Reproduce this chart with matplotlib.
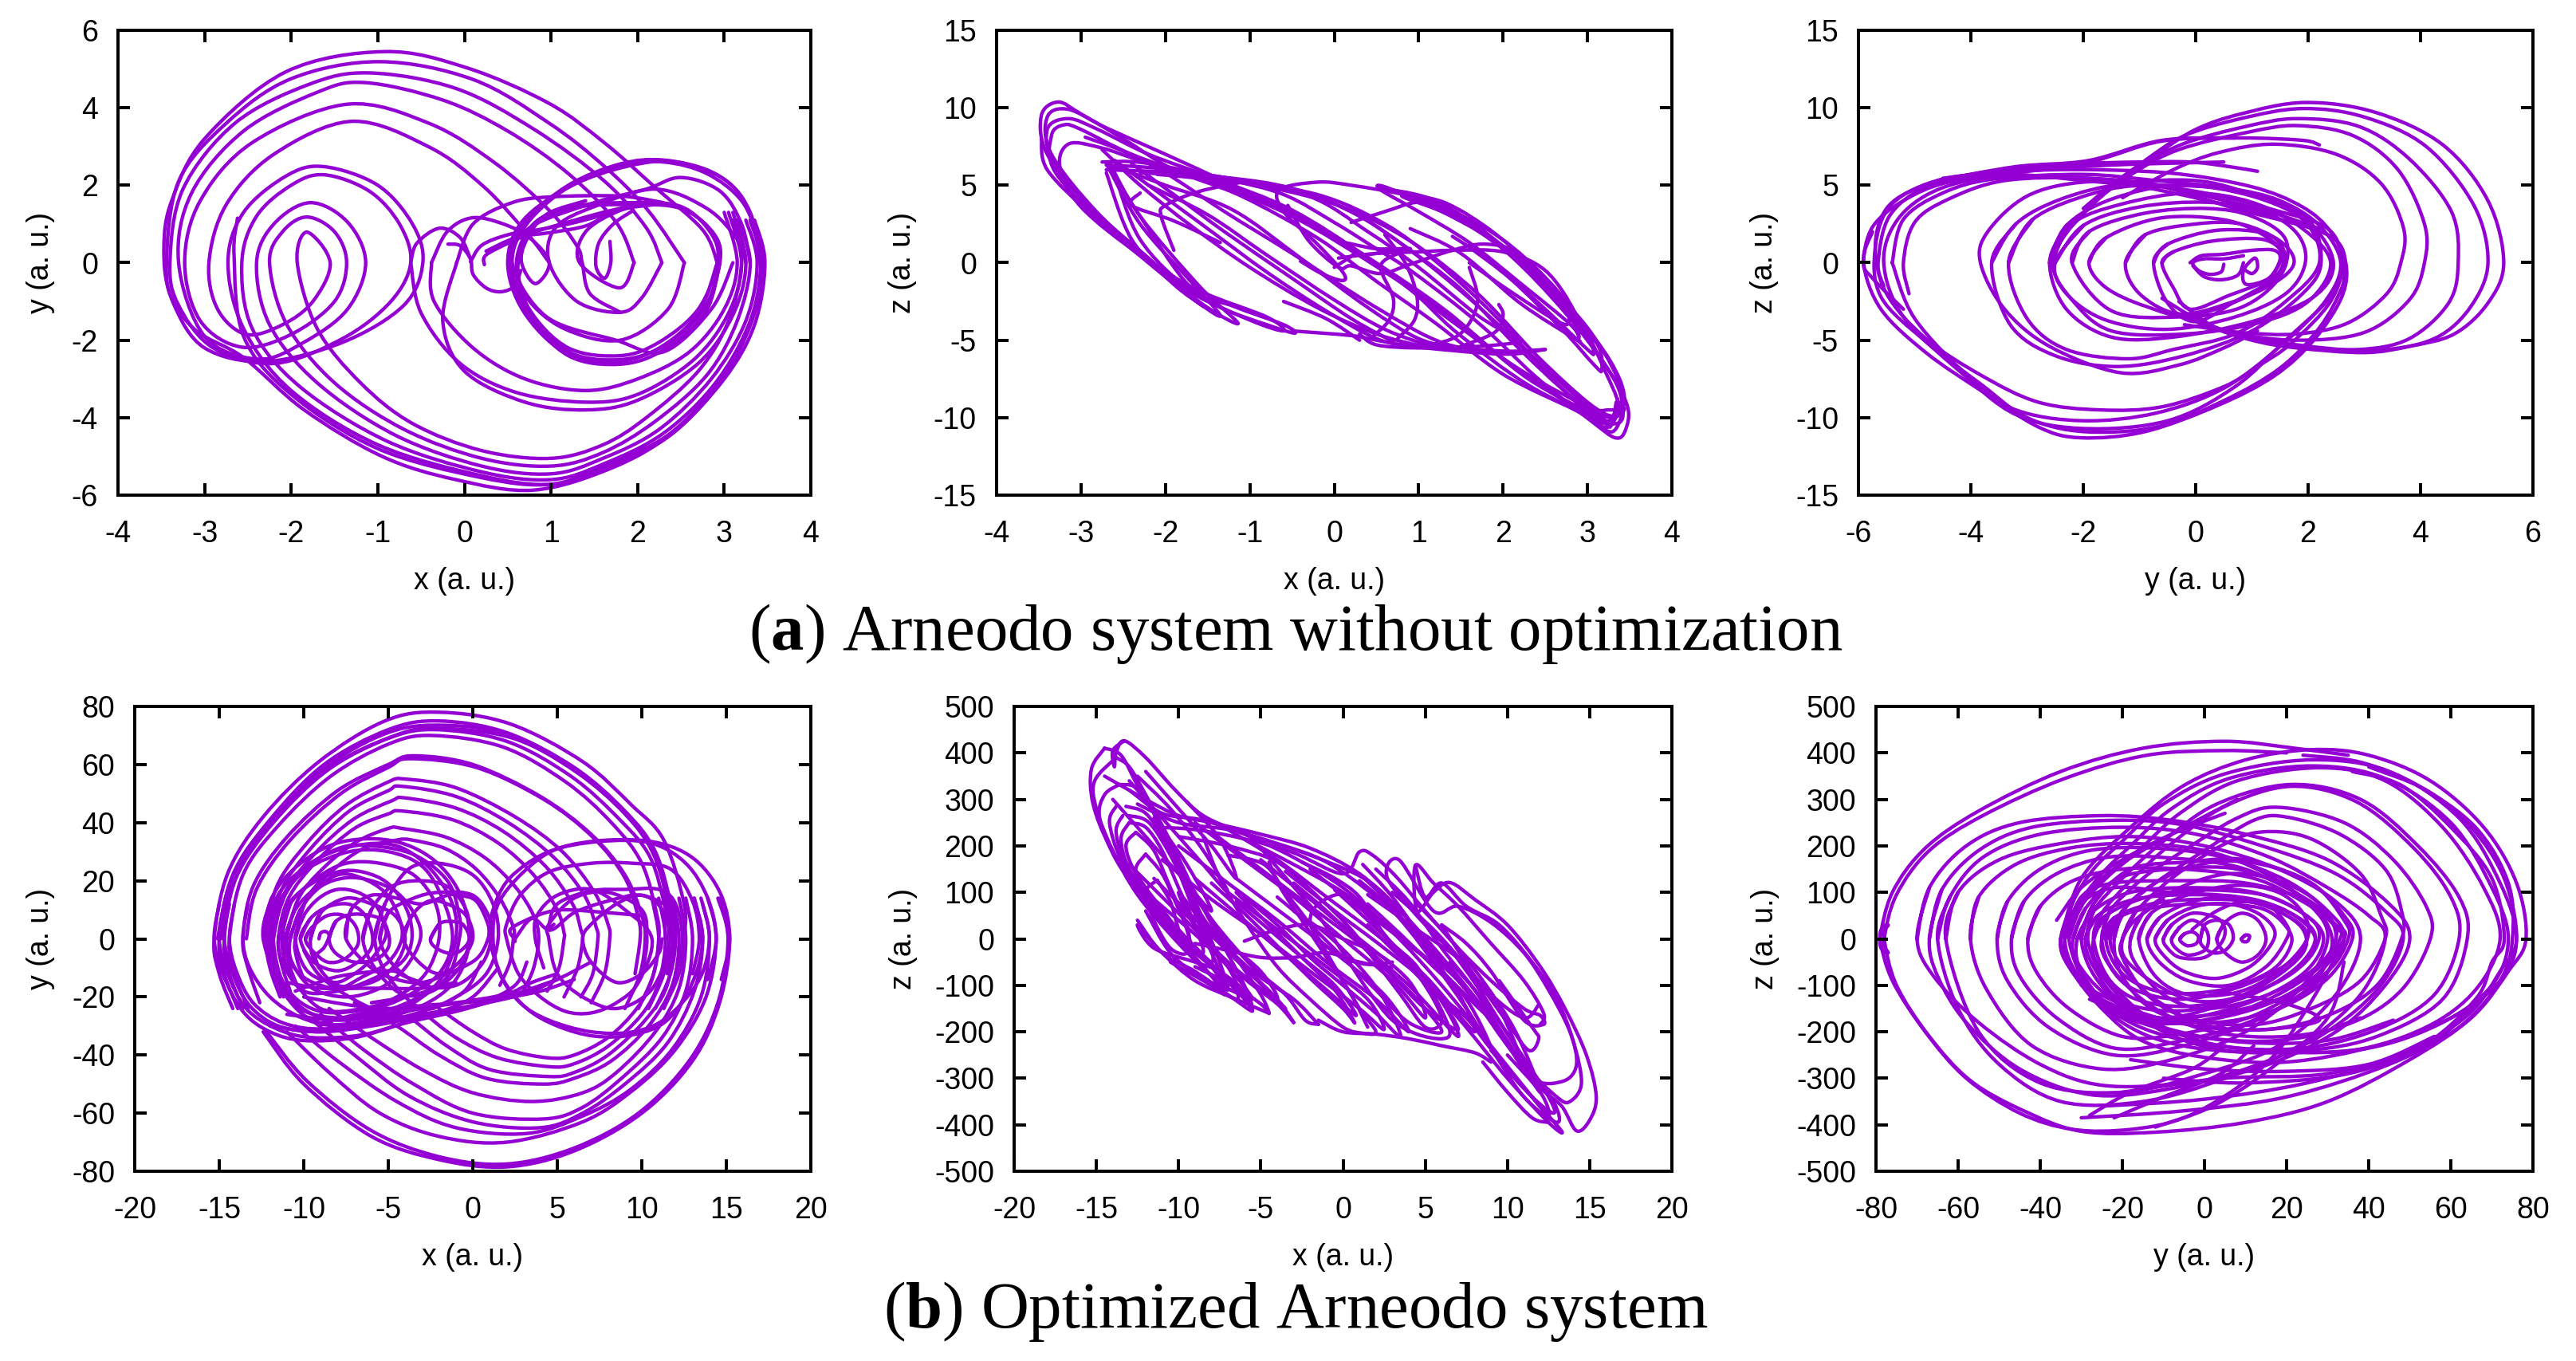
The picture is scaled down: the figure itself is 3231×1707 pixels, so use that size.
import numpy as np
import matplotlib
matplotlib.use("Agg")
import matplotlib.pyplot as plt
from matplotlib.path import Path
from matplotlib.patches import PathPatch

plt.rcParams['font.family'] = ['Liberation Sans', 'DejaVu Sans']
plt.rcParams['mathtext.fontset'] = 'custom'
plt.rcParams['mathtext.bf'] = 'Liberation Serif:bold'
plt.rcParams['mathtext.rm'] = 'Liberation Serif'
plt.rcParams['axes.unicode_minus'] = False

VIOLET = '#9400D3'

# traces, one list per stroke

a_xy = [
    # start of the trajectory and small arches
    [(-.19, .48), (-.05, .44), (.07, .1), (.1, -.3), (.25, -.65), (.42, -.75), (.58, -.6), (.65, -.2)],
    [(.07, .02), (.2, .45), (.5, .72), (.85, .85), (1.2, 1.0), (1.55, 1.2), (1.9, 1.45)],
    [(.23, -.05), (.25, .2), (.55, .55), (.85, .82), (1.2, 1.05), (1.6, 1.3), (2.0, 1.5)],
    [(.25, .3), (.6, .65), (1.0, .78), (1.4, .95), (1.65, 1.25)],
    [(-.62, 0), (-.55, .5), (-.29, .89), (-.05, .65), (.07, .1)],
    [(-.38, 0), (-.2, .8), (.09, 1.16), (.45, 1.0), (.76, .63), (.98, 0), (.82, -.54), (.66, 0), (.72, .6), (.95, 1.25), (1.4, 1.6)],
    [(-.09, 0), (.1, 1.0), (.55, 1.55), (1.0, 1.7), (1.8, 1.72), (2.3, 1.55)],
    # right lobe, tight centre
    [(1.68, .55), (1.69, 0), (1.62, -.4), (1.52, -.1), (1.55, .5), (1.72, 1.0), (1.95, 1.35)],
    [(1.96, 0), (1.79, -.65), (1.33, 0), (1.4, .8), (1.8, 1.35), (2.2, 1.5)],
    [(2.28, 0), (2.05, -.9), (1.8, -1.28), (1.3, -1.0), (.98, 0), (1.05, .9), (1.5, 1.45), (2.2, 1.9), (2.8, 1.4), (3.15, .6), (3.25, 0)],
    # right lobe, thick cycle
    [(2.54, 0), (2.35, -1.2), (1.8, -2.0), (1.15, -1.7), (.72, -.9), (.62, 0), (.8, 1.0), (1.25, 1.45), (1.9, 1.55), (2.5, 1.45), (2.85, .75), (2.92, 0), (2.7, -1.2), (2.25, -2.05), (1.8, -2.4), (1.2, -2.2), (.75, -1.2), (.6, 0), (.8, 1.0), (1.25, 1.42), (1.9, 1.5), (2.5, 1.4), (2.88, .75), (2.95, 0), (2.75, -1.25), (2.3, -2.15), (1.8, -2.5), (1.2, -2.3), (.72, -1.25), (.55, 0), (.72, 1.0), (1.2, 1.95), (1.8, 2.5), (2.3, 2.6), (2.8, 2.3), (3.2, 1.6), (3.4, .6), (3.45, 0)],
    [(2.95, 0), (2.78, -1.3), (2.3, -2.25), (1.8, -2.62), (1.2, -2.4), (.72, -1.3), (.52, 0), (.7, 1.05), (1.2, 2.0), (1.8, 2.55), (2.3, 2.65), (2.85, 2.35), (3.2, 1.7), (3.38, .6), (3.4, 0)],
    [(2.92, 0), (2.7, -1.3), (2.25, -2.2), (1.75, -2.55), (1.15, -2.3), (.68, -1.25), (.5, 0), (.68, 1.1), (1.25, 2.0), (1.9, 2.5), (2.45, 2.6), (3.0, 2.15), (3.3, 1.3), (3.42, 0)],
    [(3.1, 0), (2.85, -1.2), (2.3, -2.3), (1.75, -2.0), (.95, -1.4), (.55, 0), (.75, .9), (1.5, 1.55), (2.1, 1.9), (2.5, 2.2), (2.95, 1.85), (3.2, 1.0), (3.3, 0)],
    [(3.0, 1.3), (3.15, 0), (3.0, -1.2), (2.6, -2.3), (2.0, -3.0), (1.4, -3.3), (.7, -3.0), (.1, -2.2), (-.35, -1.0), (-.38, 0)],
    [(3.05, 1.3), (3.2, 0), (3.05, -1.3), (2.65, -2.5), (2.0, -3.4), (1.4, -3.6), (.6, -3.35), (-.05, -2.6), (-.5, -1.3), (-.62, 0)],
    [(3.1, 1.3), (3.25, 0), (3.1, -1.35), (2.7, -2.6), (2.0, -3.55), (1.4, -3.8), (.7, -3.6), (.0, -2.8), (-.25, -1.5), (-.09, 0)],
    # big loops: bottom, left lobe, top, landing on the right
    [(3.1, 1.1), (3.2, 0), (3.05, -1.5), (2.7, -2.8), (2.1, -4), (1.6, -4.7), (1, -5.05), (.2, -4.85), (-.6, -4.15), (-1.2, -3.1), (-1.7, -1.7), (-1.93, 0), (-1.82, .79), (-1.55, 0), (-1.75, -1), (-2.1, -1.6), (-2.52, -1.85), (-2.85, -1.2), (-2.95, 0), (-2.75, 1.5), (-2.2, 2.8), (-1.3, 3.65), (-.41, 2.99), (.22, 1.97), (.73, .74), (.98, 0)],
    [(3.15, 1.1), (3.3, 0), (3.15, -1.5), (2.8, -2.9), (2.2, -4.1), (1.6, -4.9), (1, -5.25), (.2, -5.05), (-.7, -4.3), (-1.5, -3.1), (-2.05, -1.6), (-2.25, 0), (-2.1, .8), (-1.82, 1.18), (-1.5, .8), (-1.36, 0), (-1.5, -1.0), (-2.0, -1.85), (-2.57, -2.18), (-3.05, -1.5), (-3.23, 0), (-3.05, 1.6), (-2.45, 3.1), (-1.36, 4.09), (-.41, 3.6), (.35, 2.58), (.98, 1.35), (1.3, .43), (1.36, 0), (1.45, -.8), (1.8, -1.28)],
    [(3.25, 1.1), (3.38, 0), (3.25, -1.5), (2.85, -3.0), (2.25, -4.3), (1.6, -5.05), (1, -5.45), (.2, -5.25), (-.8, -4.45), (-1.7, -3.1), (-2.25, -1.6), (-2.4, 0), (-2.2, 1.0), (-1.78, 1.55), (-1.35, 1.05), (-1.14, 0), (-1.35, -1.2), (-1.85, -2.05), (-2.38, -2.49), (-3.0, -1.9), (-3.3, 0), (-3.15, 1.8), (-2.55, 3.4), (-1.7, 4.4), (-1.15, 4.65), (-.25, 4.2), (.5, 3.4), (1.2, 2.3), (1.75, 1.05), (1.96, 0)],
    [(3.3, 1.1), (3.42, 0), (3.3, -1.5), (2.9, -3.1), (2.3, -4.4), (1.6, -5.2), (1, -5.6), (.2, -5.4), (-.9, -4.6), (-1.9, -3.2), (-2.45, -1.7), (-2.57, 0), (-2.4, 1.2), (-2.0, 2.0), (-1.62, 2.27), (-1.1, 1.85), (-.75, 1.0), (-.62, 0), (-.85, -1.0), (-1.4, -1.95), (-2.19, -2.6), (-2.9, -2.2), (-3.3, -1.1), (-3.4, 0), (-3.25, 1.9), (-2.65, 3.6), (-1.8, 4.6), (-1.1, 4.9), (-.1, 4.5), (.8, 3.45), (1.62, 2.1), (2.1, .9), (2.28, 0)],
    [(3.32, 1.1), (3.45, 0), (3.32, -1.5), (2.95, -3.1), (2.35, -4.5), (1.6, -5.3), (1, -5.72), (.2, -5.5), (-1, -4.7), (-2, -3.3), (-2.55, -1.7), (-2.73, 0), (-2.55, 1.3), (-2.05, 2.25), (-1.62, 2.48), (-1, 2.0), (-.6, 1.0), (-.48, 0), (-.7, -1.1), (-1.4, -2.05), (-2.3, -2.55), (-3.0, -2.2), (-3.35, -1.1), (-3.44, 0), (-3.3, 2.1), (-2.75, 3.6), (-2, 4.75), (-.98, 5.19), (.1, 4.73), (.98, 3.6), (1.62, 2.48), (2.12, 1.35), (2.54, 0)],
    [(3.35, 1.1), (3.47, 0), (3.35, -1.6), (3.0, -3.0), (2.4, -4.4), (1.7, -5.3), (.8, -5.87), (-.1, -5.6), (-.95, -5.0), (-1.85, -3.8), (-2.55, -2.45), (-3.1, -1.75), (-3.4, -.8), (-3.47, .4), (-3.38, 1.6), (-3.0, 3.2), (-2.06, 4.93), (-.92, 5.45), (.03, 5.03), (.98, 4.11), (1.62, 3.09), (2.19, 1.97), (2.75, .85), (2.92, 0)],
    [(3.3, 1.1), (3.44, 0), (3.3, -1.6), (2.95, -3.05), (2.35, -4.45), (1.6, -5.25), (1, -5.72), (.2, -5.55), (-1, -4.8), (-2, -3.4), (-2.55, -1.9), (-2.66, .2), (-2.62, 1.15)],
]

a_xz = [
    # top left lobes
    [(3.44, -9.4), (3.3, -10.9), (3.05, -10.2), (2.85, -9.5), (2.0, -7.2), (1.2, -3.9), (.5, -1.2), (-.2, 1.6), (-1.1, 4.3), (-1.9, 6.0), (-2.5, 8.0), (-3.0, 9.6), (-3.27, 10.37), (-3.47, 9.5), (-3.4, 7.0), (-2.9, 3.6), (-2.2, .3), (-1.7, -2.2), (-1.55, -2.8), (-1.9, -1.4), (-2.4, 1.5), (-2.7, 5.8)],
    [(3.4, -9.2), (3.25, -10.6), (3.0, -9.9), (2.1, -6.6), (1.3, -3.0), (.55, -.2), (-.3, 2.7), (-1.2, 5.0), (-2.0, 7.0), (-2.7, 8.7), (-3.15, 9.9), (-3.4, 9.4), (-3.35, 7.0), (-2.8, 3.2), (-2.1, -.2), (-1.6, -2.6), (-1.35, -3.4), (-1.7, -1.2), (-2.3, 2.5), (-2.7, 6.4)],
    [(3.38, -9), (3.25, -10.2), (3.05, -9.5), (2.2, -6.9), (1.35, -3.6), (.4, .3), (-.5, 3.4), (-1.4, 5.4), (-2.2, 7.0), (-2.8, 8.6), (-3.15, 9.3), (-3.4, 8.6), (-3.3, 6.2), (-2.7, 2.6), (-2.0, -.8), (-1.5, -2.9), (-1.14, -3.9), (-1.6, -1.5), (-2.3, 3.0), (-2.65, 6.3)],
    [(3.36, -8.8), (3.28, -10.4), (3.1, -9.9), (2.3, -7.5), (1.5, -4.0), (.6, -.6), (-.5, 3.0), (-1.5, 5.2), (-2.4, 7.0), (-3.0, 8.6), (-3.2, 8.9), (-3.35, 8.2), (-3.3, 5.8), (-2.6, 1.8), (-1.8, -1.5), (-1.3, -3.0), (-.8, -4.0), (-.47, -4.55), (-.6, -4.0), (-1.2, -2.8), (-1.7, -1.6), (-2.3, 3.0), (-2.7, 6.5)],
    [(3.34, -9), (3.28, -10.5), (3.15, -10.2), (2.3, -7.9), (1.45, -4.5), (.8, -1.3), (-.3, 2.5), (-1.3, 5.0), (-2.3, 6.6), (-2.75, 7.4), (-3.14, 7.68), (-3.25, 6.2), (-3.0, 3.6), (-2.3, .5), (-1.6, -1.8), (-.8, -3.5), (-.6, -4.4), (-1.0, -3.7), (-1.7, -1.8), (-2.3, 1.5), (-2.6, 5.7)],
    [(-2.95, 8.1), (-2.5, 7.2), (-2.0, 5.8), (-1.3, 3.3), (-.5, .6), (.5, -2.9), (1.3, -5.2), (2.0, -5.7), (2.5, -5.6)],
    # diagonal band below the middle
    [(-2.75, 7.3), (-2.3, 5.0), (-1.7, 2.4), (-1, -.3), (-.2, -2.9), (.5, -4.6), (1.08, -5.45)],
    [(-2.6, 6.6), (-2.1, 4.6), (-1.5, 2.2), (-.8, -.6), (-.1, -3.1), (.5, -4.9), (.9, -5.4)],
    [(-2.4, 6.4), (-1.9, 4.4), (-1.3, 2.0), (-.5, -1.0), (.2, -3.6), (.7, -5.1)],
    [(-2.7, 6.4), (-2.0, 5.0), (-1.2, 3.4), (-.4, .3), (.4, -2.9), (1.0, -4.9), (1.5, -5.6)],
    [(-2.2, 5.0), (-1.5, 3.1), (-.8, .5), (0, -2.4), (.6, -4.3), (1.2, -5.5)],
    [(-3.47, 8), (-3.4, 6), (-2.9, 3.2), (-2.4, .9), (-1.9, -1.3), (-1.5, -2.5)],
    # long strands across the middle
    [(-2.75, 6.5), (-2.26, 6.45), (-1.32, 5.43), (-.6, 4.4), (0, 2.6), (.45, 1.07), (.96, -.72), (1.74, -4.04), (2.39, -7.37), (3.04, -10.2), (3.33, -11.3), (3.45, -10.8), (3.47, -9.2), (3.2, -6.5), (2.7, -3), (2.1, .4), (1.45, 3.2), (.9, 4.3), (.2, 5.0), (-.2, 5.2), (-.65, 4.7), (-.6, 3.3), (-.2, 1.2), (.1, -.6), (.1, -1.15), (-.15, -.7), (-.4, .1)],
    [(-2.7, 6.3), (-2.1, 6.1), (-1.3, 5.5), (-.4, 4.6), (.3, 3.0), (.9, .8), (1.6, -2.3), (2.4, -6.3), (3.0, -9.2), (3.25, -9.5), (3.43, -9.2), (3.38, -7.5), (3.1, -5.0), (2.6, -2.2), (2.0, .9), (1.35, 3.3), (1.0, 3.9), (.6, 3.3), (.2, 2.6)],
    [(-2.3, 5.8), (-1.3, 5.5), (-.5, 4.8), (.2, 3.3), (.8, 1.2), (1.5, -1.7), (2.2, -5.6), (2.8, -8.6), (3.2, -9.9), (3.4, -9.6), (3.35, -7.4), (3.0, -4.2), (2.5, -1.3), (1.9, 1.4), (1.2, 3.5), (.6, 4.9), (.55, 4.7), (1.0, 3.3), (1.6, 1.3), (2.2, -1.3), (2.8, -4.0), (2.9, -5.0), (2.85, -4.9), (2.2, -2.6), (1.5, .6), (.9, 2.2)],
    [(-2.7, 6.0), (-1.8, 5.8), (-1.3, 5.4), (-.2, 4.4), (.6, 2.5), (1.2, .1), (1.9, -3.4), (2.5, -7.0), (3.05, -9.9), (3.3, -10.4), (3.42, -9.9), (3.35, -7.9), (3.0, -5.0), (2.4, -.7), (1.9, 1.9), (1.3, 3.9), (.8, 4.3), (1.4, 3.0), (2.0, .9), (2.6, -2.0), (3.0, -4.7), (3.07, -5.8), (3.0, -5.6), (2.5, -3.0), (1.9, -.1), (1.4, 1.7)],
    [(-2.1, 5.7), (-1.5, 5.4), (-.8, 4.9), (.1, 3.6), (.9, 1.4), (1.7, -2.0), (2.4, -6.0), (3.0, -9.0), (3.3, -9.9), (3.36, -9.0), (3.2, -6.9), (2.9, -3.6), (2.4, -.4), (1.8, 2.2), (1.0, 4.2), (.55, 4.8), (1.2, 4.0), (1.9, 1.5), (2.6, -1.9), (3.1, -5.1), (3.17, -6.9), (3.08, -6.6), (2.7, -4.3), (2.1, -1.1), (1.6, 1.0)],
    [(-1.9, 5.8), (-1.3, 5.5), (-.3, 4.3), (.4, 2.0), (1.0, -.3), (1.7, -3.4), (2.1, -4.7), (2.2, -5.1), (1.7, -5.4), (1.0, -5.5), (.5, -5.3), (.3, -4.6)],
    [(-.55, 3.7), (-.3, 1.4), (.05, -.3), (.2, -.2), (.55, -.7), (.9, -.1), (1.4, .8), (1.8, 1.2), (2.2, .5), (2.7, -2.6), (2.78, -3.8), (2.65, -3.8), (2.1, -1.9), (1.6, 0)],
    [(.05, .3), (.5, .6), (1.0, .7), (1.4, .8), (2.0, .7), (2.5, -.5), (2.85, -3.2), (2.9, -4.8)],
    [(.35, .5), (.9, .9), (.5, .9), (.1, 1.3), (.25, .7), (.0, -.3)],
    [(.45, -4.8), (.65, -3.7), (.7, -2.3), (.55, -.2), (.8, .7)],
    [(.75, -4.9), (.95, -3.7), (.98, -2.2), (.85, -.1), (.6, 1.8)],
    [(1.0, -5.45), (1.4, -4.9), (1.6, -3.9), (1.7, -2.3), (1.6, -.3)],
    [(1.5, -5.4), (1.9, -4.5), (2.0, -3.4), (1.95, -2.7)],
    [(-.5, -4.4), (.2, -4.7), (.5, -5.0), (1.0, -5.45), (2.0, -5.9), (2.5, -5.6)],
    [(-1.9, .8), (-2.05, 3.0), (-2.0, 3.7), (-1.6, 4.6), (-1.0, 5.3)],
    [(-2.3, 4.5), (-2.4, 3.7), (-1.9, 2.7), (-1.35, 1.3)],
    [(-.6, -2.5), (-.1, -3.6), (.3, -5.0)],
]

a_yz = [
    [(1.1, 5.9), (.6, 6.2), (-.1, 6.5), (-1.0, 6.5), (-2.0, 6.4), (-3.0, 6.15), (-4, 5.7), (-4.9, 4.9), (-5.5, 3.5), (-5.7, 1.0), (-5.5, -2.0), (-4.8, -4.9), (-3.8, -7.3), (-2.8, -9.0), (-1.7, -9.5), (-.6, -9.3), (.5, -8.0), (1.1, -6.7), (1.7, -5.2), (2.4, -2.5), (2.6, 0), (2.35, 2.2), (1.4, 3.4), (.3, 4.4), (-.8, 5.0), (-2.0, 5.2), (-3.0, 4.3), (-3.7, 2.0), (-3.83, 0), (-3.4, -3.0), (-2.6, -5.4), (-1.34, -7.1), (-.3, -6.6), (.5, -5.5), (1.1, -4.4)],
    [(-5.2, -3), (-5.75, -1), (-5.91, 0), (-5.75, 2.3), (-5.2, 4.0), (-4.4, 5.2), (-3.0, 5.9), (-1.5, 6.3), (.5, 6.5)],
    [(-5.75, 2), (-5.91, 0), (-5.6, -3.0), (-4.8, -5.8), (-3.8, -8.3), (-2.8, -10.6), (-2.04, -11.3), (-.9, -10.9), (.4, -9.2), (1.4, -7.3), (2.1, -5.0), (2.6, -2.2), (2.67, 0), (2.4, 1.7), (1.3, 3.0), (.1, 4.1), (-1.1, 5.0), (-1.7, 5.2), (-3.3, 5.7), (-4.5, 5.4), (-5.4, 3.8), (-5.7, 1.0), (-5.6, -2.2), (-4.8, -5.1), (-3.8, -7.9), (-3, -10.0), (-2.0, -10.9), (-.7, -10.6), (.5, -8.9), (1.5, -6.8), (2.2, -4.2), (2.6, -1.6), (2.65, 0)],
    [(-5.55, -1.5), (-5.65, 0), (-5.45, 3.0), (-4.8, 4.9), (-3.9, 5.6), (-2.5, 6.0), (-.5, 5.8), (1.0, 4.9), (1.9, 3.6), (2.4, 2.0), (2.62, 0), (2.4, -2.2), (1.6, -5.0), (.7, -8.0), (-.5, -10.2), (-2.0, -10.7), (-3.2, -9.8), (-4.2, -7.0), (-5.2, -3.5), (-5.55, 0), (-5.3, 2.8), (-4.6, 4.7), (-3.5, 5.6), (-2.2, 5.5), (-.8, 5.1), (.3, 4.2), (1.3, 3.3), (2.2, 2.2)],
    [(-5.4, 0), (-5.2, 2.8), (-4.5, 4.5), (-3.6, 5.4), (-2.0, 5.7), (-.7, 5.3), (.6, 4.8), (1.5, 4.0), (2.2, 2.4), (2.58, 0), (2.3, -2.5), (1.5, -5.4), (.5, -8.1), (-.7, -9.7), (-2.0, -10.2), (-3.2, -9.5), (-4.0, -7.5), (-5.0, -3.6), (-5.4, 0)],
    [(-5.1, -2), (-5.2, 0), (-5.0, 2.6), (-4.4, 4.1), (-3.4, 5.3), (-1.9, 5.45), (-.6, 4.9), (.7, 3.5), (1.8, 2.5)],
    # big right lobes
    [(-2.0, 3.5), (-1.4, 5.3), (-.7, 7.0), (.0, 8.6), (.8, 9.6), (1.94, 10.34), (3.2, 9.7), (4.4, 7.6), (5.2, 4.0), (5.48, 0), (5.2, -2.6), (4.6, -4.6), (3.8, -5.4), (3.0, -5.8), (1.8, -5.5), (1.0, -5.0), (.2, -4.0), (-.6, -2.3)],
    [(-2.2, 2.5), (-1.6, 4.6), (-.9, 6.6), (-.2, 8.2), (.8, 9.3), (1.9, 9.95), (3.0, 9.4), (4.1, 7.5), (4.95, 3.7), (5.2, 0), (4.9, -2.8), (4.3, -4.8), (3.4, -5.6), (2.2, -5.6), (1.2, -5.0), (.4, -4.3), (-.3, -2.5)],
    [(-2.3, 2.0), (-1.7, 4.2), (-1.0, 6.2), (-.2, 7.7), (.9, 8.8), (1.8, 9.3), (2.9, 8.8), (3.8, 6.7), (4.55, 3.3), (4.67, 0), (4.5, -2.6), (3.8, -4.9), (2.9, -5.6), (1.8, -5.3), (.7, -4.6), (-.2, -3.3)],
    [(-2.5, 1.0), (-1.9, 3.6), (-1.1, 5.8), (-.3, 7.3), (.9, 8.4), (1.8, 8.85), (2.8, 8.2), (3.6, 6.0), (4.07, 2.5), (4.07, 0), (3.8, -2.4), (3.0, -4.5), (1.8, -5.0), (.6, -4.5), (-.2, -3.5)],
    [(-1.3, 4.2), (-.4, 6.0), (.4, 7.1), (1.4, 7.65), (2.5, 7.0), (3.3, 5.1), (3.7, 2.2), (3.65, 0), (3.4, -2.0), (2.7, -3.9), (1.8, -4.6), (.8, -4.5), (-.2, -4.0)],
    [(-4.5, 5.45), (-3.3, 5.95), (-1.9, 6.5), (-.6, 7.85), (.8, 8.05), (1.9, 7.9), (2.2, 7.6)],
    [(-4.6, 5.3), (-3.2, 6.2), (-1.9, 6.6), (-.6, 7.9), (.7, 8.05)],
    # middle loops
    [(-3.63, 0), (-3.2, 2.5), (-2.4, 4.1), (-1.3, 5.1), (.0, 5.3), (1.0, 4.4), (2.0, 2.8), (2.23, 0), (1.9, -2.0), (1.0, -4.4), (-.2, -6.0), (-1.4, -6.7), (-2.5, -6.0), (-3.3, -4.0), (-3.63, 0), (-3.2, 2.5)],
    [(-3.33, 0), (-2.9, 2.8), (-1.8, 4.5), (-.8, 5.0), (.8, 4.6), (1.9, 2.8), (2.2, 0), (1.6, -2.5), (.7, -4.6), (-.4, -5.6), (-1.2, -6.2), (-2.3, -5.6), (-3.0, -3.6), (-3.33, 0), (-2.9, 2.8)],
    [(-2.6, 0), (-2.3, 2.4), (-1.5, 4.1), (-.3, 5.0), (1.0, 4.3), (2.0, 2.6), (2.45, 0), (2.1, -2.2), (1.0, -3.8), (-.4, -4.8), (-1.5, -4.8), (-2.3, -3.0), (-2.6, 0), (-2.3, 2.4)],
    [(-2.55, 0), (-2.2, 2.5), (-1.3, 3.8), (-.1, 4.5), (1.0, 3.9), (1.9, 2.2), (2.4, 0), (2.0, -2.5), (1.1, -3.9), (-.2, -4.6), (-1.5, -4.4), (-2.2, -2.4), (-2.55, 0), (-2.2, 2.5)],
    [(-2.5, 0), (-2.0, 2.4), (-1.0, 3.6), (.2, 3.9), (1.2, 3.3), (1.8, 1.9), (1.95, 0), (1.6, -2.0), (.7, -3.5), (-.5, -4.3), (-1.6, -3.7), (-2.3, -2.0), (-2.5, 0), (-2.0, 2.4)],
    [(-2.2, 0), (-1.9, 2.0), (-.9, 3.2), (.2, 3.5), (1.0, 3.0), (1.6, 1.5), (1.5, -.9), (.8, -2.9), (-.3, -3.5), (-1.5, -3.1), (-2.2, 0), (-1.9, 2.0)],
    [(-1.9, 0), (-1.6, 1.6), (-.6, 2.9), (.6, 2.7), (1.4, 1.3), (1.5, 0), (1.0, -2.0), (-.1, -3.4), (-.9, -2.8), (-1.6, -1.6), (-1.9, 0), (-1.6, 1.6)],
    [(-1.25, 0), (-.9, 1.8), (.0, 2.5), (.8, 2.5), (1.5, 1.4), (1.75, 0), (1.4, -1.3), (.6, -2.6), (-.3, -3.3), (-1.0, -2.0), (-1.25, 0), (-.9, 1.8)],
    [(-.75, 0), (-.5, 1.2), (.4, 2.1), (1.3, 1.8), (1.6, .4), (1.45, -.9), (.7, -2.5), (.0, -3.8), (-.5, -2.6), (-.75, 0), (-.5, 1.2)],
    [(-.6, 0), (-.4, .7), (.3, 1.4), (1.2, 1.5), (1.55, .5), (1.4, -.9), (.6, -2.1), (-.1, -3.0), (-.4, -1.6), (-.6, 0), (-.4, .7)],
    [(-.1, 0), (.1, .45), (.5, .55), (1.0, .8), (1.4, .8), (1.5, .2), (1.3, -1.0), (.9, -1.4), (.85, -.5), (1.05, .3), (1.1, -.3), (1.0, -.7), (.85, -.4)],
    [(.5, -.1), (.45, -.6), (.25, -.75), (.05, -.5), (-.05, 0), (.15, .25), (.5, .25), (.85, .45)],
    [(-.05, -.2), (.15, -.9), (.45, -1.1), (.75, -.8), (.85, 0)],
]

b_xy = [
    # big top arcs, both ends run past y = 0
    [(-14.2, -24), (-15, -12), (-15.3, 0), (-14.5, 22.5), (-12.4, 42), (-9.1, 61), (-5.2, 75), (-2, 78), (2.2, 74), (6.5, 61), (9.4, 46), (11.3, 34), (12.5, 12), (12.5, 0), (12.2, -12), (11.3, -24)],
    [(-13.9, -24), (-14.7, -12), (-15, 0), (-14.2, 22), (-12, 41), (-8.8, 60), (-5, 72), (-2, 75), (2, 71), (6, 59), (9, 44), (10.8, 30), (11.8, 10), (12, 0), (11.7, -12), (10.8, -24)],
    [(-13.6, -24), (-14.4, -12), (-14.7, 0), (-14, 21), (-11.8, 40), (-8.6, 58), (-5, 69), (-2.2, 72), (2, 68), (5.8, 56), (8.7, 41), (10.5, 28), (11.4, 10), (11.6, 0), (11.3, -12), (10.4, -24)],
    [(-13.3, -24), (-14.1, -12), (-14.4, 0), (-13.6, 22), (-11.5, 39), (-8.4, 56), (-5, 67), (-2.4, 70), (1.8, 66), (5.5, 54), (8.2, 40), (10, 26), (10.9, 8), (11, 0), (10.7, -12), (9.8, -24)],
    [(-14.9, 0), (-14.1, 23), (-11.9, 41), (-8.5, 59), (-4.6, 70), (-2, 72.5), (2.4, 69), (6.3, 57), (9.2, 42), (10.9, 27), (11.6, 8), (11.8, 0), (11.5, -12)],
    [(-15.1, 0), (-14.3, 20), (-12.2, 39), (-9, 58), (-5, 71), (-1.6, 73.5), (2.2, 70), (6.1, 57.5), (9, 43), (10.7, 29), (11.7, 9), (11.9, 0), (11.6, -12)],
    [(-12.6, -22), (-13.3, -10), (-13.6, 0), (-13, 18), (-11, 35), (-8, 51), (-5, 60), (-3.5, 63), (0, 60), (4, 49), (7, 36), (9, 22), (10, 8), (10.2, 0), (9.9, -12), (9, -24)],
    [(-13.4, 0), (-12.8, 17), (-10.8, 34), (-7.8, 50), (-5, 59), (-3.7, 62), (.2, 59), (4.2, 48), (7.1, 35), (9, 21), (9.8, 7), (9.9, 0), (9.6, -12)],
    [(-11.4, -20), (-12, -10), (-12.2, 0), (-11.6, 18), (-9.8, 33), (-7.5, 46), (-5, 54), (-4, 55), (-1, 52), (2.5, 42), (5.3, 30), (7.2, 16), (8, 5), (8.1, 0), (7.8, -12), (7, -22)],
    [(-11.2, -20), (-11.8, -10), (-12, 0), (-11.3, 17), (-9.6, 31), (-7.3, 44), (-5, 51), (-4.2, 52.5), (-1, 49), (2.1, 40), (4.8, 28), (6.6, 15), (7.3, 4), (7.4, 0), (7.1, -12), (6.4, -20)],
    [(-11, -20), (-11.6, -10), (-11.8, 0), (-11.2, 15), (-9.4, 29), (-7.1, 41), (-4.8, 47.5), (-4, 48.5), (-1, 45), (1.8, 37), (4.3, 25), (5.9, 12), (6.4, 3), (6.5, 0), (6.2, -10), (5.4, -20)],
    [(-10.8, -18), (-11.3, -9), (-11.5, 0), (-10.9, 14), (-9.2, 27), (-7, 38), (-5, 43), (-4.2, 44), (-1.2, 41), (1.5, 33), (3.6, 22), (5, 10), (5.4, 2), (5.4, 0), (5.1, -10), (4.4, -18)],
    [(-10.4, -16), (-10.9, -8), (-11, 0), (-10.3, 14), (-8.9, 24), (-7, 33), (-5, 38), (-4.2, 38), (-1.6, 35), (.7, 28), (2.5, 18), (3.6, 8), (3.9, 0), (3.6, -10), (3, -18)],
    [(-10, -14), (-10.4, -7), (-10.5, 0), (-9.8, 14), (-8.4, 23), (-6.5, 31), (-4.5, 34), (-3.6, 34), (-1.6, 31), (.2, 24), (1.6, 14), (2.4, 4), (2.4, 0), (2.2, -8), (1.6, -16)],
    # right lobe
    [(14.7, -14), (15.2, 0), (14.7, 15), (13.2, 27), (11, 33), (8, 34), (5, 31), (3, 23), (1.5, 12), (1.2, 0), (1.6, -12), (2.8, -22), (4.5, -28), (7, -32), (9.5, -32), (11.5, -27), (13.4, -14), (14, 0), (13.6, 12)],
    [(13.9, -14), (14.4, 0), (13.9, 14), (12.6, 26), (10.5, 33), (7.5, 33.5), (4.5, 30), (2.2, 21), (1.2, 10), (1, 0), (1.8, -14), (3.2, -24), (5, -30), (7.2, -33.5), (9.5, -33), (11.5, -28), (13, -15), (13.6, 0), (13.1, 14)],
    [(13, -12), (13.4, 0), (13, 13), (11.7, 24), (9.5, 26), (7, 26), (4.5, 23), (2.8, 15), (2, 5), (2, 0), (2.7, -12), (4, -20), (5.5, -25), (7, -25.5), (8.5, -22), (9.8, -15), (10.6, 0), (9, 10), (7, 17), (5, 15), (3.8, 8), (3.7, 0), (4.2, -10)],
    [(12, -12), (12.4, 0), (12, 12), (11, 17), (9, 17), (7, 16.5), (5, 12), (4.5, 4), (4.8, 5)],
    [(11.4, 0), (11.2, 10), (10, 15), (8.5, 12), (7, 5), (6.5, 0), (7, -8), (8.5, -15), (10, -12), (11, -5), (11.2, 0)],
    [(10.1, -10), (10.3, 0), (10, 10), (8, 16), (6, 14), (4.5, 5), (4.5, 0), (5, -12), (6.5, -20), (8.5, -24), (10.5, -18), (11.6, -5)],
    # big bottom arcs
    [(14.6, 14), (15.2, 0), (14.6, -22), (13, -42), (10, -60), (6, -73), (2, -78.5), (-2, -76), (-6, -68), (-10, -50), (-12.4, -32)],
    [(14.5, 14), (15.1, 0), (14.5, -22), (12.8, -42), (9.8, -60), (6, -72), (2, -77.5), (-2, -75), (-6, -66), (-9.8, -49), (-12.2, -32)],
    [(13.9, 14), (14.4, 0), (13.8, -20), (12, -38), (9.5, -52), (6.5, -63), (2, -70), (-2, -68), (-5.5, -60), (-8.5, -46), (-11, -32)],
    [(13.5, 14), (14, 0), (13.5, -20), (11.8, -38), (9.3, -52), (6.5, -61), (3.2, -67), (-1, -65), (-4.5, -56), (-8, -42), (-10.5, -30)],
    [(13.1, 14), (13.6, 0), (13.1, -18), (11.5, -36), (9, -50), (6.5, -60), (4, -65), (0, -63), (-3.8, -54), (-7, -40), (-9.5, -28)],
    [(12.6, 14), (13, 0), (12.6, -18), (11.2, -34), (8.8, -48), (6.5, -58), (4.2, -62), (0, -60), (-3.5, -50), (-6.5, -38), (-9, -26)],
    [(12.2, 14), (12.6, 0), (12.2, -17), (10.8, -32), (8.5, -46), (6.5, -53), (3.5, -56), (0, -53), (-3, -45), (-6, -34), (-8.5, -24)],
    [(11.8, 14), (12.2, 0), (11.8, -16), (10.4, -30), (8.2, -42), (6, -48), (4.2, -50), (.8, -48), (-2, -40), (-4.5, -30), (-7, -22)],
    [(11.5, 14), (11.8, 0), (11.5, -16), (10.2, -28), (8, -40), (6, -46), (4.5, -47.4), (1, -45), (-1.5, -37), (-3.5, -28)],
    [(11, 14), (11.4, 0), (11, -15), (10, -26), (8, -37), (6, -43), (4.5, -44), (1.5, -41), (-1, -34), (-3, -25)],
    [(10.6, 14), (11, 0), (10.6, -14), (9.7, -24), (8, -34), (6, -40), (4.5, -41), (2, -38), (0, -32), (-2, -24)],
    # left lobe bottoms
    [(-15, 12), (-15.3, 0), (-14.8, -12), (-13.6, -25), (-12, -32), (-10, -35), (-7, -34), (-4, -29), (-1, -25), (1.5, -21), (4, -18), (6, -14)],
    [(-14.7, 12), (-15, 0), (-14.5, -12), (-13.4, -24), (-11.6, -31), (-9.5, -34), (-6.5, -33), (-3.5, -28), (-.5, -24), (2, -20), (5, -14)],
    [(-14.4, 12), (-14.7, 0), (-14.2, -12), (-13.2, -23), (-11.5, -30), (-9, -32), (-6, -30), (-2.5, -26), (.5, -22), (2.5, -16), (3.2, -8)],
    [(-14.1, 12), (-14.4, 0), (-14, -11), (-13, -22), (-11.2, -29), (-8.8, -31), (-5.5, -28), (-2, -25), (0, -20), (1.5, -10)],
    [(-13.3, 12), (-13.6, 0), (-13.2, -10), (-12, -20), (-10.2, -27), (-8, -30), (-5, -28), (-2.5, -24), (-.5, -18), (.5, -8)],
    [(-12, -30), (-9, -32), (-6, -29), (-3, -26), (0, -23), (3, -19), (5, -14), (7, -8)],
    [(-11, -26), (-8, -28), (-5, -26), (-2, -23), (1, -21), (3, -19)],
    [(-10, -20), (-7, -23), (-4, -24), (-1, -22)],
    [(-11, -15), (-9, -17), (-6, -17), (-3, -17), (-1, -15)],
    # left lobe circles
    [(-12.2, 0), (-11.8, 12), (-10.5, 22), (-8, 31), (-6, 32), (-3.5, 29), (-1.5, 20), (-.8, 8), (-.8, 0), (-1.5, -13), (-3.5, -21), (-6, -26), (-8.5, -27), (-10.5, -23), (-11.8, -12), (-12.2, 0), (-11.8, 12)],
    [(-12, 0), (-11.4, 13), (-9.8, 24), (-7.3, 30), (-5, 30), (-3, 25), (-1.8, 14), (-1.2, 0), (-2, -12), (-4, -20), (-6, -24), (-9, -25), (-11, -17), (-12, 0), (-11.4, 13)],
    [(-11.5, 0), (-11, 11), (-9.8, 18), (-8, 23), (-6.5, 23), (-5, 19), (-3.9, 10), (-3.6, 0), (-4.2, -8), (-6, -14), (-8, -18), (-10, -18), (-11.2, -9), (-11.5, 0), (-11, 11)],
    [(-11.1, 0), (-10.6, 9), (-9.6, 16), (-8, 22), (-6.6, 21), (-5.2, 16), (-4.4, 8), (-4.2, 0), (-5, -8), (-6.5, -13), (-8, -17), (-9.8, -14), (-10.9, -7), (-11.1, 0), (-10.6, 9)],
    [(-10.5, 0), (-10, 8), (-9.1, 14), (-8, 17), (-6.8, 16), (-5.8, 12), (-5.2, 5), (-5.2, 0), (-6, -7), (-7, -12), (-8.2, -15), (-9.8, -11), (-10.5, 0), (-10, 8)],
    [(-10.2, 0), (-9.6, 7), (-8.6, 11), (-7.4, 12), (-6.5, 9), (-6, 3), (-6, -3), (-6.8, -8), (-8, -11), (-9.4, -8), (-10.2, 0), (-9.6, 7)],
    [(-9.9, 0), (-9.5, 4), (-8.6, 8), (-7.6, 8), (-6.9, 4), (-6.8, -2), (-7.6, -7), (-8.6, -8), (-9.5, -4), (-9.9, 0), (-9.5, 4)],
    [(-12.4, 0), (-11.9, 14), (-10.4, 25), (-8, 33), (-5, 34), (-2.5, 28), (-.8, 16), (-.2, 0), (-1, -14), (-3, -23), (-6, -28), (-9, -29), (-11, -20), (-12.4, 0), (-11.9, 14)],
    [(-11.8, 0), (-11.2, 14), (-9.6, 26), (-7, 32), (-4.5, 32), (-2.5, 24), (-1.2, 12), (-1, 0), (-1.8, -13), (-3.5, -22), (-6, -27), (-9, -27), (-11, -18), (-11.8, 0), (-11.2, 14)],
    [(-11.3, 0), (-10.8, 12), (-9.2, 21), (-7.5, 26), (-5.5, 26), (-3.5, 22), (-2.2, 12), (-2, 0), (-2.8, -12), (-4.5, -20), (-6.5, -24), (-9, -24), (-10.8, -12), (-11.3, 0), (-10.8, 12)],
    [(-10.8, 0), (-10.2, 10), (-9, 18), (-7.5, 21), (-6, 20), (-4.5, 16), (-3.4, 8), (-3.1, 0), (-4, -10), (-5.5, -17), (-7.5, -20), (-9.5, -17), (-10.7, -8), (-10.8, 0), (-10.2, 10)],
    [(-9.6, 0), (-9, 9), (-7.5, 14), (-6, 12), (-4.6, 8), (-4, 0), (-4.6, -9), (-6, -15), (-8, -16), (-9.3, -8), (-9.6, 0), (-9, 9)],
    [(-6.5, 0), (-6, 10), (-4.8, 18), (-3.2, 20), (-1.5, 18), (-.4, 10), (-.2, 0), (-.8, -10), (-2.4, -18), (-4.2, -19), (-5.8, -10), (-6.5, 0), (-6, 10)],
    [(-5.8, 0), (-5.2, 12), (-3.8, 24), (-2, 26), (0, 22), (1.2, 12), (1.5, 0), (.8, -12), (-1, -20), (-3, -24), (-5, -13), (-5.8, 0), (-5.2, 12)],
    [(-9.1, 0), (-9, 2), (-8.7, 2.5), (-8.5, 1), (-8.8, -3), (-9.3, -6), (-9.1, -10)],
    [(-10, -4), (-9, -13), (-7, -21), (-5, -26), (-3, -27), (-1, -24)],
    [(-10.5, -18), (-8, -13), (-5, -11), (-4, -13), (-2.5, -17), (-4, -20), (-6, -22)],
    [(-7.5, 0), (-7.2, 10), (-6, 15), (-4.5, 14), (-3, 12), (-1.5, 15), (-.8, 15), (.2, 13), (.9, 5), (.9, 0), (.2, -7), (-1.5, -12), (-3, -15), (-4.5, -14), (-6, -10), (-7.5, 0), (-7.2, 10)],
    [(-5.5, 0), (-5, 9), (-3.5, 14), (-2, 16), (0, 15), (1, 7), (1.1, 0), (.5, -9), (-1, -16), (-3, -16), (-4.7, -9), (-5.5, 0), (-5, 9)],
    [(-4.1, 0), (-3.6, 8), (-2.6, 13), (-1.5, 12), (-.4, 8), (0, 0), (-.8, -8), (-2, -12), (-3.2, -8), (-4.1, 0), (-3.6, 8)],
    [(-2.5, 0), (-2, 5), (-1.4, 6), (-.6, 5), (-.2, 0), (-.7, -4), (-1.4, -5), (-2.2, -3), (-2.5, 0), (-2, 5)],
    [(-8.5, 0), (-8.1, 6), (-7, 8.5), (-5.5, 7), (-5, 2), (-5, -3), (-5.7, -7), (-7, -8), (-8.1, -5), (-8.5, 0), (-8.1, 6)],
    [(2.4, -1), (2.5, -.5), (2.2, 3), (3, 6), (4.3, 9), (5.5, 10), (8, 9), (10, 8)],
    [(2.5, 0), (3.5, 7), (4.6, 3), (6, 9), (8, 13), (10, 15), (12, 10)],
    [(-9, -29), (-6, -25), (-3, -23), (-1, -22), (2, -19), (3.5, -15), (5, -12)],
]

b_xz = [
    # narrow loops from the top left to the bottom right
    [(-13.3, 426), (-14, 405), (-13.9, 370), (-13.8, 400), (-13.3, 426), (-12, 390), (-10.2, 320), (-8.5, 265), (-6, 225), (-3, 175), (0, 110), (3, 15), (6, -100), (9, -230), (11.5, -340), (13.3, -414), (12.5, -395), (10, -300), (7, -170), (4, -60)],
    [(-14.5, 410), (-15.3, 365), (-15.2, 290), (-14.2, 200), (-12.5, 110), (-10, 10), (-7.5, -75), (-5, -140), (-4.5, -160), (-5, -120), (-6.5, -40), (-8.5, 70), (-10, 160), (-11.5, 270), (-12.5, 330), (-13.5, 395), (-14.5, 410)],
    [(-13.8, 390), (-15.1, 340), (-15, 280), (-14, 190), (-12.5, 95), (-10, -10), (-7.5, -95), (-6, -125), (-5.5, -150), (-6, -100), (-7.5, 0), (-9, 100), (-10.5, 210), (-12, 310), (-13, 370), (-13.8, 390)],
    [(-13.6, 332), (-14.5, 310), (-14.8, 260), (-13.8, 170), (-12, 80), (-10, 0), (-8, -80), (-7.2, -120), (-7.5, -70), (-8.5, 10), (-9.5, 100), (-10.5, 190), (-11.5, 270), (-12.6, 325), (-13.6, 332)],
    [(-13.8, 285), (-14.2, 250), (-13.5, 170), (-12, 90), (-10, 10), (-8, -60), (-7, -110), (-7.5, -50), (-8.5, 40), (-9.5, 120), (-10.8, 210), (-12, 270), (-13.2, 285)],
    [(-13.4, 265), (-13.8, 230), (-13.2, 160), (-11.8, 90), (-10, 20), (-8, -50), (-8.3, 10), (-9.3, 90), (-10.5, 180), (-11.8, 250), (-13, 265)],
    [(-13, 250), (-13.5, 215), (-13, 150), (-11.5, 80), (-9.5, 0), (-8.5, -30), (-9, 30), (-10, 110), (-11, 190), (-12, 240), (-13, 250)],
    [(-12.6, 229), (-13.2, 200), (-12.6, 140), (-11, 60), (-9.5, -10), (-9.5, 30), (-10.5, 110), (-11.5, 190), (-12.6, 229)],
    [(-12, 182), (-12.6, 150), (-12, 110), (-10.5, 40), (-9.2, -32), (-9.5, 20), (-10.2, 80), (-11, 140), (-12, 182)],
    [(-11.3, 126), (-12, 100), (-11.5, 40), (-10.5, -20), (-9.5, -30), (-10, 20), (-10.5, 80), (-11.3, 126)],
    [(-12, 60), (-10.5, -30), (-8.5, -85), (-6.5, -110), (-7, -60), (-8.5, 10), (-10, 70)],
    [(-14, 300), (-12, 220), (-10, 140), (-8, 60), (-9.5, 160), (-11.5, 260)],
    [(-13, 340), (-11, 260), (-9, 180), (-7, 100), (-8.5, 190), (-10.5, 280), (-12.5, 350)],
    [(-12, 360), (-10, 280), (-8, 200), (-6.5, 130), (-7.5, 215), (-9.5, 295)],
    [(-13, 160), (-11, 90), (-9, 20), (-7, -50), (-5, -110), (-3.5, -150), (-5.5, -80), (-7.5, -10), (-9.5, 60), (-11.5, 130)],
    [(-12.5, 40), (-11, -30), (-9, -70), (-7, -120), (-5.5, -155), (-7, -90), (-9, -30), (-11, 30)],
    [(-12, 100), (-10, 40), (-8, -20), (-6, -80), (-4, -130), (-5, -70), (-7, -10), (-9, 50)],
    [(-11.5, 60), (-9.5, 0), (-7.5, -70), (-5.5, -130), (-7, -60), (-9, 10)],
    [(-10.5, -50), (-8.5, -90), (-6.5, -130), (-6.8, -100), (-9, -60)],
    # middle of the band
    [(-9, 250), (-6, 170), (-3, 90), (0, 0), (3, -90), (5, -170), (4, -90), (1, 0), (-2, 85), (-5, 170)],
    [(-10, 200), (-7, 120), (-4, 40), (-1, -50), (2, -130), (4, -200), (2.5, -120), (-.5, -30), (-3.5, 50), (-6.5, 130)],
    [(-11, 170), (-8, 85), (-5, 10), (-2, -70), (1, -150), (2.5, -195), (1.5, -130), (-1, -60), (-4, 20), (-7, 100)],
    [(-8, 230), (-5, 150), (-2, 70), (1, -10), (4, -100), (7, -210), (5.5, -110), (2.5, -20), (-.5, 60), (-3.5, 145)],
    [(-7, 235), (-4, 170), (-1, 90), (2, 10), (5, -80), (8, -200), (6.5, -90), (3.5, 0), (.5, 80), (-2, 150)],
    [(-6, 215), (-3, 160), (0, 100), (3, 20), (6, -70), (9, -170), (7.5, -60), (4.5, 20), (1.5, 95)],
    [(-9, 130), (-7, 70), (-5, 10), (-3, -50), (-1, -110), (.8, -165), (-.5, -100), (-2.5, -40), (-4.5, 20), (-6.5, 80)],
    [(-4, 90), (-2, 30), (0, -40), (2, -110), (4, -180), (6, -200), (4.5, -130), (2.5, -60), (.5, 10), (-1.5, 70)],
    [(-3, 120), (-1, 60), (1, -10), (3, -80), (5, -150), (7, -195), (5.5, -110), (3.5, -40), (1.5, 30)],
    [(-.5, 105), (1.5, 40), (3.5, -30), (5.5, -110), (7.5, -170), (9, -235), (7.5, -130), (5.5, -60), (3.5, 10), (1.5, 75)],
    [(1, 140), (3, 70), (5, -20), (7, -90), (9, -170), (11, -280), (9.5, -150), (7.5, -60), (5.5, 20), (3, 100)],
    [(2, 150), (4, 80), (6, -20), (8, -110), (10, -220), (12, -330), (10.5, -200), (8.5, -90), (6.5, 0), (4.5, 75)],
    [(9, -240), (11, -320), (12.5, -380), (12, -330), (10, -250)],
    [(8.5, -265), (10, -330), (11.5, -385), (12.5, -395)],
    # long strands
    [(-14.5, 350), (-12, 300), (-10, 265), (-8, 250), (-5, 225), (-2, 195), (1, 140), (3.5, 60), (6, -40), (8, -130), (10, -230), (12, -320), (13.3, -360), (14.2, -413), (15, -390), (15.4, -339), (14.8, -250), (13.5, -150), (12, -60), (10, 30), (8, 85), (6.5, 121), (5.5, 100), (4.5, 60), (4.4, 158), (5.5, 120), (7, 70), (9, -10), (11, -90), (12.2, -160), (12, -184)],
    [(-13, 320), (-11, 270), (-8.5, 255), (-5, 215), (-2, 180), (1.5, 125), (4, 40), (6.5, -60), (9, -170), (11, -270), (13, -340), (13.8, -350), (14.5, -310), (14, -220), (13, -130), (11.5, -50), (9.5, 30), (7.5, 70), (6, 120), (5, 90), (4.4, 158)],
    [(-12.5, 290), (-10, 250), (-7, 235), (-4, 205), (-1, 165), (2, 90), (4.5, 10), (7, -90), (9.5, -200), (11.5, -300), (13.4, -306), (14.2, -270), (13.8, -200), (12.5, -110), (11, -30), (9, 35), (7, 70), (5.5, 60), (3.4, 170), (2.7, 130), (5, 30), (7, -40), (9, -120), (11, -170), (11.9, -142)],
    [(-11.5, 240), (-9, 235), (-6, 215), (-3, 185), (0, 140), (1, 187), (1.8, 180), (3.2, 135), (5, 60), (7, -20), (9, -90), (11, -150), (12, -165), (12.2, -184), (11, -175), (9, -70), (7.5, -10), (6, 30)],
    [(-10, 220), (-7, 200), (-4, 165), (-1.5, 90), (.5, 20), (2, -50), (3.5, -120), (5, -190), (6, -180), (5.5, -130), (4, -50), (2.5, 10), (1, 90), (-.5, 130), (-2.5, 165)],
    [(-7, 180), (-4.8, 160), (-3.5, 100), (-2, 30), (-.5, -60), (1, -150), (2, -200), (1.2, -203), (0, -190), (-2, -130), (-4, -60), (-6, 40), (-7.5, 130), (-8.5, 220)],
    [(-4.5, 165), (-3.8, 110), (-2.5, 40), (-1, -40), (.5, -120), (1.5, -190)],
    [(-5, 195), (-3.2, 120), (-1.5, 50), (0, -30), (1.5, -110), (3, -175), (4.5, -205), (6, -215), (6.5, -200), (5.8, -140), (4.5, -60), (3, -10), (1.5, 50), (0, 95), (-1.5, 75), (-2, 40), (-1.5, 0), (0, -40), (1.5, -55), (3, -50)],
    [(-1.5, -184), (-2.3, -175), (-3.5, -120), (-5.5, -60), (-7.5, 20), (-9.5, 110), (-8, 20), (-5.5, -70), (-3, -130), (-1.5, -184)],
    [(-3, -180), (-4, -130), (-6, -60), (-8, 10), (-10, 100), (-8.5, 0), (-6, -85), (-4, -140), (-3, -180)],
    [(-1.5, -175), (0, -200), (2, -205), (4, -215), (6, -230), (8, -245), (9, -265)],
    [(-4.5, -160), (-6.5, -130), (-9, -90), (-11, -30), (-12.5, 30), (-11.5, -20), (-9, -50), (-7.5, -70), (-6, -110)],
    [(-9, -10), (-7, -25), (-5, -40), (-3, -40), (-1, -30), (1, -50), (3, -60), (2, -30), (0, 0), (-2, 30), (-4, 20), (-6, -5)],
    [(-6, 90), (-4, 30), (-2, -40), (0, -100), (2, -160), (3.5, -210), (2.5, -130), (1, -60), (-1, 10), (-3, 60)],
    [(-8, 120), (-6, 55), (-4, -15), (-2, -85), (0, -150), (.7, -180), (-.5, -110), (-2.5, -40), (-4.5, 30), (-6.5, 100)],
    [(1, 125), (2.5, 80), (4, 20), (5.5, -50), (7.5, -150), (9.5, -260), (11.5, -340), (12.8, -375), (12.5, -340), (10.5, -230), (8.5, -130), (6.5, -50)],
    [(1.2, 160), (3, 90), (5, -10), (7, -120), (9, -235), (11, -340), (13, -395), (12.8, -350), (10.8, -250), (8.5, -120), (6.5, -20)],
    [(6, 30), (8, -80), (10, -180), (11.3, -240), (11.9, -215), (11.5, -190), (9.5, -90)],
]

b_yz = [
    [(-78, -30), (-79, 0), (-76, 100), (-68, 195), (-55, 275), (-35, 360), (-15, 410), (5, 425), (22, 410), (35, 395)],
    [(-77, -30), (-78, 0), (-75, 95), (-67, 190), (-54, 265), (-34, 345), (-14, 395), (5, 405), (20, 400)],
    [(-78, 30), (-79, 0), (-76, -90), (-68, -200), (-58, -300), (-45, -375), (-32, -410), (-18, -410), (-5, -385), (8, -320), (18, -240), (27, -120), (33, -20)],
    [(-77, 30), (-78, 0), (-75, -100), (-67, -210), (-57, -305), (-44, -370), (-30, -414), (-12, -416), (10, -395), (30, -350), (50, -260), (65, -170), (74, -70), (78.3, 0), (76, 120), (68, 240), (55, 340), (40, 395), (26, 407), (10, 385), (-5, 330), (-18, 240), (-30, 130), (-35, 0)],
    [(-70, 0), (-67, 110), (-58, 200), (-45, 250), (-25, 265), (-8, 255), (10, 225), (30, 170), (45, 75), (50, 0), (44, -100), (32, -200), (14, -275), (-5, -310), (-25, -315), (-40, -270), (-55, -180), (-66, -80), (-70, 0), (-67, 110)],
    [(-67, 0), (-64, 105), (-55, 190), (-42, 240), (-22, 255), (-5, 245), (14, 200), (32, 140), (44, 60), (48.4, 0), (42, -110), (28, -210), (10, -280), (-10, -325), (-28, -335), (-45, -280), (-58, -180), (-65, -80), (-67, 0), (-64, 105)],
    [(-65, 0), (-62, 90), (-54, 175), (-40, 225), (-20, 240), (-2, 225), (16, 175), (30, 110), (40, 50), (44, 0), (38, -120), (24, -225), (5, -300), (-15, -350), (-35, -350), (-50, -270), (-60, -150), (-65, 0), (-62, 90)],
    [(-63, 0), (-60, 100), (-50, 170), (-35, 205), (-18, 220), (0, 200), (18, 150), (32, 80), (38, 0), (32, -120), (18, -230), (0, -290), (-20, -330), (-40, -310), (-55, -200), (-63, 0), (-60, 100)],
    [(-57, 0), (-55, 90), (-46, 160), (-33, 195), (-18, 205), (0, 190), (15, 140), (26, 70), (30, 0), (24, -100), (10, -200), (-8, -260), (-25, -280), (-42, -230), (-53, -110), (-57, 0), (-55, 90)],
    [(-50.5, 0), (-48, 80), (-40, 150), (-28, 190), (-12, 195), (5, 175), (20, 125), (30, 60), (34, 0), (28, -90), (14, -170), (-5, -230), (-22, -250), (-38, -190), (-48, -90), (-50.5, 0), (-48, 80)],
    [(-47, 0), (-44, 80), (-36, 140), (-24, 175), (-10, 175), (8, 155), (22, 100), (30, 50), (32, 0), (26, -100), (12, -175), (-6, -220), (-22, -235), (-36, -170), (-45, -80), (-47, 0), (-44, 80)],
    [(-43, 0), (-40, 70), (-32, 125), (-20, 150), (-5, 150), (12, 130), (24, 80), (32, 30), (34, 0), (26, -90), (12, -165), (-6, -205), (-20, -210), (-33, -150), (-41, -70), (-43, 0), (-40, 70)],
    # upper right thick arcs
    [(-35, 0), (-32, 80), (-27, 150), (-20, 210), (-10, 290), (5, 355), (26, 385), (45, 360), (62, 260), (72, 120), (76, 0), (72, -90), (60, -170), (42, -230), (20, -265), (0, -255), (-15, -220), (-25, -150), (-33, -60), (-35, 0), (-32, 80)],
    [(-34, 0), (-31, 70), (-25, 140), (-18, 200), (-8, 280), (6, 345), (26, 372), (44, 345), (60, 250), (70, 110), (74, 0), (70, -100), (58, -180), (40, -235), (18, -245), (-2, -235), (-16, -200), (-27, -130), (-33, -50), (-34, 0), (-31, 70)],
    [(-33, 0), (-30, 70), (-24, 130), (-16, 190), (-6, 270), (8, 340), (28, 368), (44, 340), (58, 240), (68, 110), (72, 0), (66, -110), (54, -190), (36, -240), (15, -240), (-4, -220), (-18, -180), (-28, -110), (-33, 0), (-30, 70)],
    [(-28.5, 0), (-27, 60), (-20, 130), (-10, 210), (3, 290), (21, 332), (38, 300), (52, 200), (62, 90), (64, 0), (58, -130), (42, -210), (25, -240), (5, -240), (-12, -190), (-24, -90), (-28.5, 0), (-27, 60)],
    [(-27, 0), (-25, 55), (-18, 125), (-8, 205), (5, 285), (21, 328), (37, 295), (51, 195), (60, 90), (62, 0), (56, -120), (42, -195), (24, -235), (4, -230), (-12, -180), (-23, -90), (-27, 0), (-25, 55)],
    [(-25, 0), (-23, 60), (-15, 130), (-5, 190), (8, 260), (18, 283), (34, 250), (46, 170), (54, 70), (55, 0), (48, -110), (36, -180), (20, -210), (2, -200), (-12, -150), (-22, -70), (-25, 0), (-23, 60)],
    [(-23, 0), (-20, 60), (-12, 120), (0, 190), (12, 255), (20, 262), (33, 225), (44, 150), (48, 60), (48, 0), (42, -100), (30, -165), (15, -195), (0, -185), (-12, -130), (-20, -60), (-23, 0), (-20, 60)],
    [(-20, 0), (-17, 55), (-8, 130), (4, 200), (14, 230), (26, 215), (38, 140), (43, 50), (44, 0), (38, -90), (26, -150), (12, -185), (-4, -170), (-14, -120), (-20, -40), (-20, 0), (-17, 55)],
    # centre loops
    [(-18, 0), (-15, 55), (-6, 110), (6, 140), (18, 125), (28, 75), (32, 0), (26, -70), (14, -125), (0, -150), (-10, -120), (-17, -50), (-18, 0), (-15, 55)],
    [(-16, 0), (-13, 55), (-4, 95), (8, 115), (18, 100), (24, 55), (25, 0), (18, -70), (8, -115), (-4, -120), (-12, -80), (-16, 0), (-13, 55)],
    [(-14, 0), (-11, 45), (-3, 80), (6, 90), (15, 75), (20, 30), (20, 0), (15, -60), (6, -100), (-4, -90), (-11, -50), (-14, 0), (-11, 45)],
    [(-12, 0), (-9, 40), (-2, 70), (6, 75), (13, 55), (17, 20), (16, -15), (11, -60), (3, -85), (-5, -70), (-10, -35), (-12, 0), (-9, 40)],
    [(-10, 0), (-8, 30), (-3, 55), (3, 45), (5, 20), (4, -10), (0, -40), (-6, -40), (-9, -20), (-10, 0), (-8, 30)],
    [(-8, 0), (-6, 25), (-3, 40), (0, 25), (1, 0), (0, -25), (-4, -35), (-7, -20), (-8, 0), (-6, 25)],
    [(-6, 0), (-5, 10), (-3, 15), (-1.5, 5), (-2, -10), (-4, -15), (-5.5, -8), (-6, 0), (-5, 10)],
    [(-1, 0), (0, 30), (3, 40), (6, 30), (7, 0), (5, -25), (2, -30), (-.5, -15), (-1, 0), (0, 30)],
    [(3, 0), (5, 35), (9, 55), (13, 40), (15, 0), (13, -35), (9, -50), (5, -30), (3, 0), (5, 35)],
    [(9, 0), (10, 8), (11, 6), (10.5, -5), (9.5, -6), (9, 0), (10, 8)],
    [(-3, 20), (3, 60), (10, 80), (18, 60), (24, 20), (24, -30), (16, -90), (6, -130), (-4, -130), (-14, -85), (-20, -30), (-18, 30), (-10, 85)],
    [(-22, 0), (-19, 70), (-10, 130), (2, 165), (14, 160), (26, 120), (34, 50), (36, 0), (30, -85), (18, -150), (2, -180), (-12, -155), (-20, -80), (-22, 0), (-19, 70)],
    [(-30, 0), (-27, 75), (-18, 150), (-4, 165), (10, 170), (26, 120), (34, 40), (35, 0), (30, -70), (18, -130), (0, -165), (-16, -165), (-26, -90), (-30, 0), (-27, 75)],
    [(-32, 0), (-29, 65), (-21, 130), (-8, 150), (8, 150), (22, 100), (30, 30), (30, -40), (20, -110), (5, -165), (-12, -180), (-24, -120), (-31, -50), (-32, 0), (-29, 65)],
    [(-35, 0), (-31, 70), (-22, 110), (-8, 100), (8, 90), (20, 60), (27, 0), (22, -70), (8, -130), (-10, -170), (-25, -130), (-33, -60), (-35, 0), (-31, 70)],
    [(-34, 0), (-30, 90), (-22, 120), (-6, 125), (10, 120), (24, 85), (32, 25), (33, 0), (27, -80), (14, -145), (-4, -180), (-20, -170), (-30, -90), (-34, 0), (-30, 90)],
    [(-31, 0), (-27, 60), (-18, 100), (-4, 110), (12, 100), (24, 55), (29, 0), (24, -75), (10, -140), (-8, -175), (-22, -150), (-30, -70), (-31, 0), (-27, 60)],
    [(-29, 0), (-26, 50), (-17, 85), (-3, 95), (12, 85), (23, 45), (27, 0), (22, -65), (10, -125), (-6, -155), (-20, -135), (-27, -60), (-29, 0), (-26, 50)],
    [(-27, 0), (-24, 50), (-14, 90), (-2, 105), (14, 95), (24, 55), (28, 10), (24, -55), (12, -115), (-4, -145), (-18, -125), (-26, -55), (-27, 0), (-24, 50)],
    [(-25, 0), (-22, 45), (-13, 75), (-1, 85), (12, 78), (22, 40), (25, 0), (20, -55), (8, -105), (-6, -130), (-18, -105), (-24, -45), (-25, 0), (-22, 45)],
    [(-24, 0), (-20, 50), (-10, 70), (2, 75), (14, 65), (20, 25), (21, -15), (16, -70), (4, -110), (-10, -115), (-20, -75), (-24, 0), (-20, 50)],
    [(-36, 40), (-30, 110), (-20, 170), (-8, 225), (5, 270)],
    [(-32, 60), (-25, 130), (-16, 185), (-5, 240), (8, 300)],
    [(-28, -130), (-14, -180), (2, -215), (18, -225), (32, -215), (46, -175)],
    [(-18, -260), (0, -280), (20, -285), (40, -270), (56, -210)],
    [(-10, -300), (10, -310), (35, -290), (55, -225), (66, -140)],
    [(-30, -100), (-15, -160), (0, -190), (15, -195), (28, -175), (20, -140), (5, -115)],
    [(-25, -150), (-8, -200), (10, -220), (25, -210), (38, -170)],
    [(5, -230), (-3, -280), (-18, -330), (-28, -380)],
    [(12, -230), (4, -290), (-10, -340), (-22, -385)],
    [(-12, -405), (2, -360), (16, -280), (30, -170), (34, -50)],
    [(-30, -385), (-5, -370), (20, -340), (45, -270), (62, -190), (72, -90), (75, 0), (74, 120), (66, 240), (52, 330), (38, 380), (24, 395)],
    [(-25, -360), (0, -345), (25, -310), (48, -250), (64, -165), (72, -70), (76, 0), (73, 130), (65, 240), (54, 320), (40, 370)],
    [(-20, -330), (5, -300), (30, -290), (52, -235), (66, -130), (70, -50), (73, 0), (70, 130), (60, 240), (48, 330), (36, 360)],
]

panels = [
    (a_xy, (-4, 4), (-6, 6), 'x (a. u.)', 'y (a. u.)', (148, 1017, 38, 621), 1, 2),
    (a_xz, (-4, 4), (-15, 15), 'x (a. u.)', 'z (a. u.)', (1250, 2097, 38, 621), 1, 5),
    (a_yz, (-6, 6), (-15, 15), 'y (a. u.)', 'z (a. u.)', (2331, 3177, 38, 621), 2, 5),
    (b_xy, (-20, 20), (-80, 80), 'x (a. u.)', 'y (a. u.)', (169, 1017, 886, 1469), 5, 20),
    (b_xz, (-20, 20), (-500, 500), 'x (a. u.)', 'z (a. u.)', (1272, 2097, 886, 1469), 5, 100),
    (b_yz, (-80, 80), (-500, 500), 'y (a. u.)', 'z (a. u.)', (2353, 3177, 886, 1469), 20, 100),
]


# smooth line through the read points, drawn as bezier segments
def stroke_path(points):
    p = np.array(points, dtype=float)
    q = np.vstack([p[0], p, p[-1]])
    verts = [p[0]]
    codes = [Path.MOVETO]
    for i in range(1, len(q) - 2):
        verts += [q[i] + (q[i + 1] - q[i - 1]) / 6, q[i + 1] - (q[i + 2] - q[i]) / 6, q[i + 1]]
        codes += [Path.CURVE4] * 3
    return Path(verts, codes)


W, H = 3231, 1707
fig = plt.figure(figsize=(W / 300, H / 300), dpi=300)

for strokes, xlim, ylim, xlabel, ylabel, box, xstep, ystep in panels:
    left, right, top, bottom = box
    ax = fig.add_axes([left / W, 1 - bottom / H, (right - left) / W, (bottom - top) / H])
    for pts in strokes:
        ax.add_patch(PathPatch(stroke_path(pts), fill=False, edgecolor=VIOLET, lw=1.05,
                               capstyle='round', joinstyle='round'))
    ax.set_xlim(xlim)
    ax.set_ylim(ylim)
    ax.set_xticks(np.arange(xlim[0], xlim[1] + xstep, xstep))
    ax.set_yticks(np.arange(ylim[0], ylim[1] + ystep, ystep))
    ax.tick_params(direction='in', top=True, right=True, length=3.6, width=0.95, labelsize=9, pad=6)
    ax.tick_params(axis='x', pad=7.5)
    for spine in ax.spines.values():
        spine.set_linewidth(0.95)
    ax.set_xlabel(xlabel, fontsize=9, labelpad=5.5)
    ax.set_ylabel(ylabel, fontsize=9, labelpad=5)

fig.text(1625 / W, 1 - 815 / H, r'($\mathbf{a}$) Arneodo system without optimization',
         fontsize=19.9, family='Liberation Serif', ha='center', va='baseline')
fig.text(1625 / W, 1 - 1665 / H, r'($\mathbf{b}$) Optimized Arneodo system',
         fontsize=19.9, family='Liberation Serif', ha='center', va='baseline')

fig.savefig('out.png', dpi=300)
